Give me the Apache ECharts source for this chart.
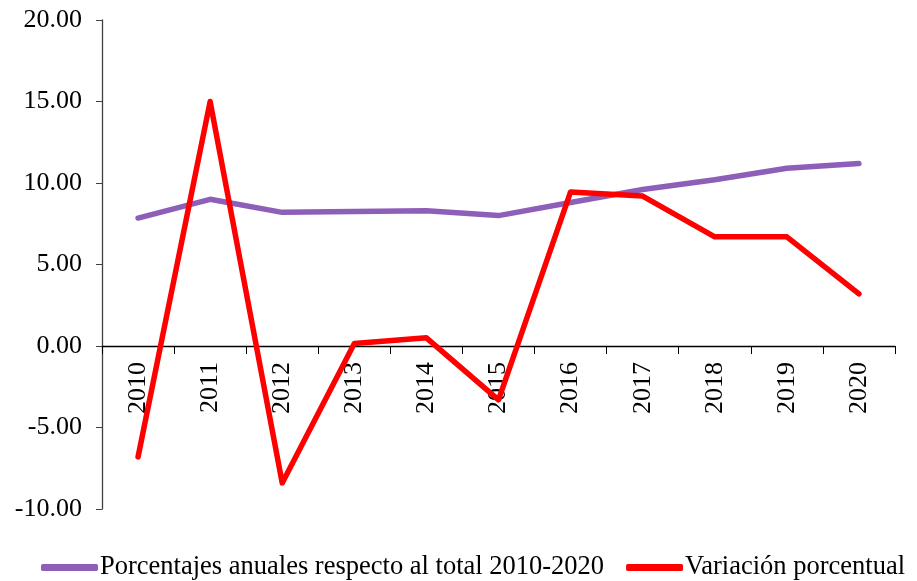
<!DOCTYPE html>
<html>
<head>
<meta charset="utf-8">
<script src="https://cdn.jsdelivr.net/npm/echarts@6/dist/echarts.min.js"></script>
<style>
  html, body { margin: 0; padding: 0; background: #fff; }
  #chart { width: 917px; height: 581px; }
</style>
</head>
<body>
<div id="chart"></div>
<script>
var years = ['2010', '2011', '2012', '2013', '2014', '2015', '2016', '2017', '2018', '2019', '2020'];
var porcentajes = [7.85, 9.0, 8.2, 8.25, 8.3, 8.0, 8.8, 9.6, 10.2, 10.9, 11.2];
var variacion = [-6.8, 15.0, -8.4, 0.15, 0.5, -3.3, 9.45, 9.2, 6.7, 6.7, 3.2];
var seriesNames = ['Porcentajes anuales respecto al total 2010-2020', 'Variación porcentual'];

var font = "'Liberation Serif', 'Times New Roman', serif";
var chart = echarts.init(document.getElementById('chart'));

// grid goes 20..509, zero sits at 346 -> move the category axis up onto it
var gridTop = 20, gridBottom = 72;
var zeroOffset = -Math.round((581 - gridBottom - gridTop) * 10 / 30);

chart.setOption({
    animation: false,
    textStyle: { fontFamily: font },
    grid: { left: 102, right: 22, top: gridTop, bottom: gridBottom, containLabel: false },
    legend: {
        top: 549,
        left: 36,
        itemWidth: 57,
        itemHeight: 7,
        itemGap: 22,
        icon: 'roundRect',
        textStyle: { fontFamily: font, fontSize: 26.5, color: '#000', padding: [0, 0, 0, -3] },
        data: seriesNames
    },
    xAxis: {
        type: 'category',
        data: years,
        boundaryGap: true,
        offset: zeroOffset,
        axisLine: { onZero: false, lineStyle: { color: '#000', width: 1.3 } },
        axisTick: { show: true, length: 8, lineStyle: { color: '#000' } },
        axisLabel: { rotate: 90, margin: 16, fontFamily: font, fontSize: 26, color: '#000' }
    },
    yAxis: {
        type: 'value',
        min: -10,
        max: 20,
        interval: 5,
        splitLine: { show: false },
        axisLine: { show: true, lineStyle: { color: '#404040', width: 1.3 } },
        axisTick: { show: true, length: 6, lineStyle: { color: '#404040' } },
        axisLabel: {
            margin: 20,
            fontFamily: font,
            fontSize: 26,
            color: '#000',
            formatter: function (v) { return v.toFixed(2); }
        }
    },
    series: [
        {
            name: seriesNames[0],
            type: 'line',
            data: porcentajes,
            symbol: 'none',
            itemStyle: { color: '#8E5FB8' },
            lineStyle: { color: '#8E5FB8', width: 5.5, cap: 'round', join: 'round' }
        },
        {
            name: seriesNames[1],
            type: 'line',
            data: variacion,
            symbol: 'none',
            itemStyle: { color: '#FF0000' },
            lineStyle: { color: '#FF0000', width: 5.5, cap: 'round', join: 'round' }
        }
    ]
});
</script>
</body>
</html>
